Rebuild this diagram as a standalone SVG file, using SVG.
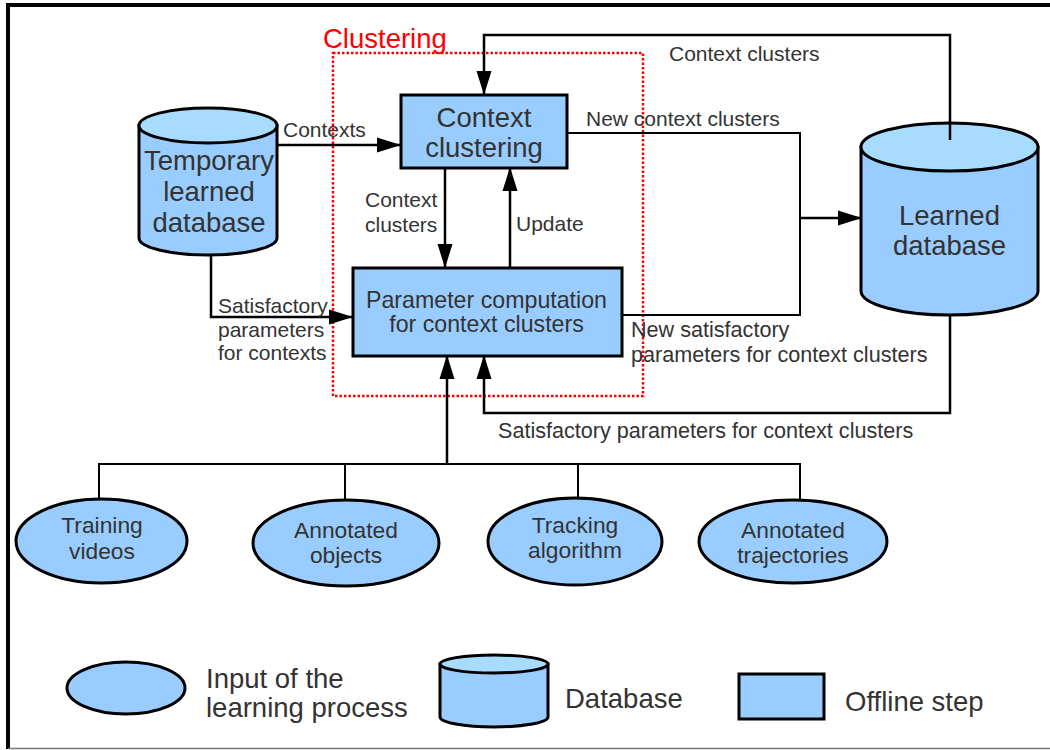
<svg xmlns="http://www.w3.org/2000/svg" width="1050" height="750" viewBox="0 0 1050 750">
<defs>
<marker id="ah" markerWidth="24" markerHeight="16" refX="23" refY="8" orient="auto" markerUnits="userSpaceOnUse"><path d="M0,0.5 L24,8 L0,15.5 Z" fill="#000"/></marker>
<style>
.box{fill:#99ccff;stroke:#000;stroke-width:3}
.top{fill:#a8dcff;stroke:#000;stroke-width:3}
.t{font-family:"Liberation Sans",Arial,sans-serif;fill:#333}
.lbl{font-size:21px}
.lbl2{font-size:21.6px}
.big{font-size:27.5px;text-anchor:middle}
.mid{font-size:23.2px;text-anchor:middle}
.ell{font-size:22.8px;text-anchor:middle}
.leg{font-size:27.5px}
.c{fill:none;stroke:#000;stroke-width:2.5}
.thin{fill:none;stroke:#000;stroke-width:2}
</style>
</defs>
<rect width="1050" height="750" fill="#fff"/>
<path d="M8,749 V5 H1050" fill="none" stroke="#000" stroke-width="4"/>
<line x1="8" y1="748.5" x2="1050" y2="748.5" stroke="#777" stroke-width="1.5"/>

<g id="clustering">
<rect x="333" y="53" width="310" height="343" fill="none" stroke="#ff0000" stroke-width="2.5" stroke-dasharray="2.5 2"/>
<text x="323" y="48" font-family="Liberation Sans,Arial,sans-serif" font-size="27.5" fill="#ff0000">Clustering</text>
</g>

<g id="connectors">
<path class="c" d="M277,145 H400" marker-end="url(#ah)"/>
<path class="c" d="M445,168 V267" marker-end="url(#ah)"/>
<path class="c" d="M510,267 V168" marker-end="url(#ah)"/>
<path class="c" d="M211,255 V317 H352" marker-end="url(#ah)"/>
<path class="thin" d="M567,133 H800 V315 H622"/>
<path class="c" d="M800,218 H861" marker-end="url(#ah)"/>
<path class="c" d="M950,140 V35 H484 V94" marker-end="url(#ah)"/>
<path class="c" d="M950,315 V413 H484 V356" marker-end="url(#ah)"/>
<path class="c" d="M447,464 V356" marker-end="url(#ah)"/>
<path class="thin" d="M99,500 V464 H800 V500"/>
<path class="thin" d="M345,464 V500"/>
<path class="thin" d="M578,464 V498"/>
<text class="t lbl" x="283" y="137">Contexts</text>
<text class="t lbl" x="365" y="207">Context</text>
<text class="t lbl" x="365" y="232">clusters</text>
<text class="t lbl" x="516" y="231">Update</text>
<text class="t lbl" x="218" y="313">Satisfactory</text>
<text class="t lbl" x="218" y="337">parameters</text>
<text class="t lbl" x="218" y="360">for contexts</text>
<text class="t lbl" x="586" y="126">New context clusters</text>
<text class="t lbl" x="669" y="61">Context clusters</text>
<text class="t lbl2" x="631" y="337">New satisfactory</text>
<text class="t lbl2" x="631" y="362">parameters for context clusters</text>
<text class="t lbl2" x="498" y="438">Satisfactory parameters for context clusters</text>
</g>

<g id="temp-db">
<path class="box" d="M139,125.5 V238 A69,17 0 0 0 277,238 V125.5 Z"/>
<ellipse class="top" cx="208" cy="125.5" rx="69" ry="17.5"/>
<text class="t big" x="209" y="170">Temporary</text>
<text class="t big" x="209" y="201">learned</text>
<text class="t big" x="209" y="232">database</text>
</g>

<g id="context-clustering">
<rect class="box" x="401" y="95" width="166" height="73"/>
<text class="t big" x="484" y="127">Context</text>
<text class="t big" x="484" y="157">clustering</text>
</g>

<g id="param-computation">
<rect class="box" x="353" y="268" width="269" height="88"/>
<text class="t mid" x="486.5" y="308">Parameter computation</text>
<text class="t mid" x="486.5" y="332">for context clusters</text>
</g>

<g id="learned-db">
<path class="box" d="M861,147 V291 A88.5,24 0 0 0 1038,291 V147 Z"/>
<ellipse class="top" cx="949.5" cy="147" rx="88.5" ry="24"/>
<line x1="950" y1="123" x2="950" y2="140" stroke="#000" stroke-width="2.5"/>
<text class="t big" x="949.5" y="225">Learned</text>
<text class="t big" x="949.5" y="255">database</text>
</g>

<g id="training-videos">
<ellipse class="box" cx="101.5" cy="541" rx="85.5" ry="42"/>
<text class="t ell" x="102" y="533">Training</text>
<text class="t ell" x="102" y="559">videos</text>
</g>
<g id="annotated-objects">
<ellipse class="box" cx="346" cy="543" rx="93" ry="43"/>
<text class="t ell" x="346" y="538">Annotated</text>
<text class="t ell" x="346" y="563">objects</text>
</g>
<g id="tracking-algorithm">
<ellipse class="box" cx="575" cy="541.5" rx="87" ry="43.5"/>
<text class="t ell" x="575" y="533">Tracking</text>
<text class="t ell" x="575" y="558">algorithm</text>
</g>
<g id="annotated-trajectories">
<ellipse class="box" cx="793" cy="541.5" rx="94" ry="41.5"/>
<text class="t ell" x="793" y="538">Annotated</text>
<text class="t ell" x="793" y="563">trajectories</text>
</g>

<g id="legend">
<ellipse class="box" cx="126" cy="688" rx="59" ry="26"/>
<text class="t leg" x="206" y="688">Input of the</text>
<text class="t leg" x="206" y="717">learning process</text>
<path class="box" d="M440,664 V717 A54,10 0 0 0 548,717 V664 Z"/>
<ellipse class="top" cx="494" cy="664" rx="54" ry="9"/>
<text class="t leg" x="565" y="708">Database</text>
<rect class="box" x="739" y="674" width="85" height="45"/>
<text class="t leg" x="845" y="711">Offline step</text>
</g>
</svg>
